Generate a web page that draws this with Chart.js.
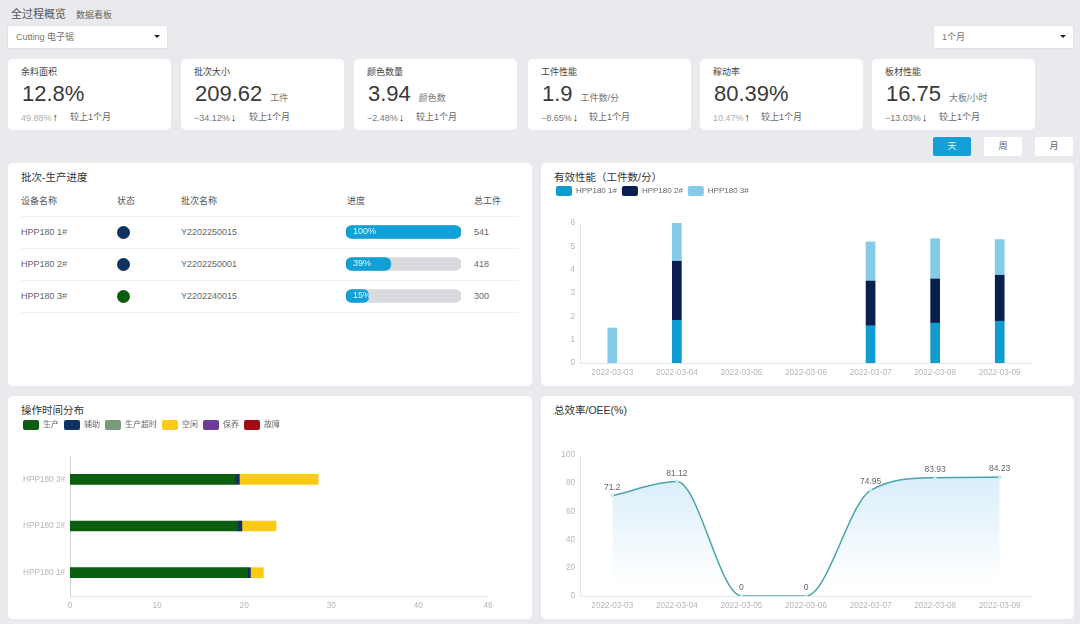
<!DOCTYPE html>
<html>
<head>
<meta charset="utf-8">
<script src="https://cdn.jsdelivr.net/npm/chart.js@4"></script>
<style>
html, body { margin: 0; padding: 0; }
body { width: 1080px; height: 624px; background: #e9eaee; position: relative; overflow: hidden;
  font-family: "Liberation Sans", "Noto Sans CJK SC", sans-serif; color: #555; }
.abs { position: absolute; white-space: nowrap; }
.card { position: absolute; background: #fff; border-radius: 5px; }
.select { position: absolute; background: #fff; height: 22px; line-height: 22px; font-size: 9px; color: #777;
  box-sizing: border-box; padding-left: 8px; box-shadow: 0 0 1px #bbb; }
.select i { position: absolute; right: 7px; top: 9px; width: 0; height: 0; border: 3px solid transparent; border-top: 3px solid #222; border-bottom: 0; }
.btn { position: absolute; top: 137px; width: 38px; height: 19px; line-height: 19px; text-align: center; font-size: 9px; background: #fff; color: #666; border-radius: 2px; }
.title { position: absolute; font-size: 10.5px; color: #333; white-space: nowrap; }
.line { position: absolute; left: 21px; width: 498px; height: 1px; background: #eef0f2; }
.dot { position: absolute; left: 117px; width: 13px; height: 13px; border-radius: 50%; }
canvas { position: absolute; }
</style>
</head>
<body>
<div class="abs" style="left:11px;top:5px;font-size:11px;color:#555">全过程概览</div>
<div class="abs" style="left:76px;top:8px;font-size:9px;color:#666">数据看板</div>
<div class="select" style="left:8px;top:26px;width:159px">Cutting 电子锯<i></i></div>
<div class="select" style="left:934px;top:26px;width:139px">1个月<i></i></div>
<div id="kpis"></div>
<div class="btn" style="left:933px;background:#149fd6;color:#dff">天</div>
<div class="btn" style="left:984px">周</div>
<div class="btn" style="left:1035px">月</div>

<div class="card" style="left:8px;top:163px;width:524px;height:223px"></div>
<div class="card" style="left:541px;top:163px;width:533px;height:223px"></div>
<div class="card" style="left:8px;top:396px;width:524px;height:223px"></div>
<div class="card" style="left:541px;top:396px;width:533px;height:223px"></div>

<div class="title" style="left:21px;top:169px">批次-生产进度</div>
<div class="title" style="left:554px;top:169px">有效性能（工件数/分）</div>
<div class="title" style="left:21px;top:402px">操作时间分布</div>
<div class="title" style="left:554px;top:402px">总效率/OEE(%)</div>

<div id="table"></div>
<canvas id="progressChart" width="115" height="96" style="left:346px;top:216px"></canvas>
<canvas id="perfChart" width="533" height="205" style="left:541px;top:181px"></canvas>
<canvas id="timeChart" width="524" height="204" style="left:8px;top:415px"></canvas>
<canvas id="oeeChart" width="533" height="199" style="left:541px;top:420px"></canvas>

<script>
// kpi cards
var kpi_names = ["余料面积", "批次大小", "颜色数量", "工件性能", "稼动率", "板材性能"];
var kpi_values = ["12.8%", "209.62", "3.94", "1.9", "80.39%", "16.75"];
var kpi_units = ["", "工件", "颜色数", "工件数/分", "", "大板/小时"];
var kpi_deltas = ["49.88%", "−34.12%", "−2.48%", "−8.65%", "10.47%", "−13.03%"];
var kpi_arrows = ["↑", "↓", "↓", "↓", "↑", "↓"];
var kpi_left = [8, 181, 354, 528, 700, 872];
var kpi_note_left = [62, 68, 62, 61, 61, 67];

// progress table
var machines = ["HPP180 1#", "HPP180 2#", "HPP180 3#"];
var status_colors = ["#0f3263", "#0f3263", "#0b5e0f"];
var batch_names = ["Y2202250015", "Y2202250001", "Y2202240015"];
var progress_bars = [100, 39, 20];
var progress_labels = ["100%", "39%", "15%"];
var total_parts = [541, 418, 300];

// effective performance
var dates = ["2022-03-03", "2022-03-04", "2022-03-05", "2022-03-06", "2022-03-07", "2022-03-08", "2022-03-09"];
var perf_1 = [null, 1.83, null, null, 1.6, 1.71, 1.79];
var perf_2 = [null, 2.53, null, null, 1.91, 1.89, 1.97];
var perf_3 = [1.5, 1.64, null, null, 1.68, 1.73, 1.53];

// operating time
var time_machines = ["HPP180 3#", "HPP180 2#", "HPP180 1#"];
var time_production = [18.95, 19.26, 20.4];
var time_assist = [0.5, 0.48, 0.32];
var time_overtime = [null, null, null];
var time_idle = [9.05, 3.92, 1.48];
var time_maintain = [null, null, null];
var time_fault = [null, null, null];

// oee
var oee_values = [71.2, 81.12, 0, 0, 74.95, 83.93, 84.23];

var tick_color = "#b4b6b8";
var axis_color = "#e3e6ea";
var font_family = '"Liberation Sans", "Noto Sans CJK SC", sans-serif';
Chart.defaults.font.family = font_family;
Chart.defaults.animation = false;
Chart.defaults.responsive = false;

var kpi_html = "";
for (let i = 0; i < kpi_names.length; i++) {
    let x = kpi_left[i];
    kpi_html += '<div class="card" style="left:' + x + 'px;top:59px;width:163px;height:71px"></div>';
    kpi_html += '<div class="abs" style="left:' + (x + 13) + 'px;top:65px;font-size:9px;color:#444">' + kpi_names[i] + '</div>';
    kpi_html += '<div class="abs" style="left:' + (x + 14) + 'px;top:81px;font-size:22px;color:#3a3a3a">' + kpi_values[i]
        + '<span style="font-size:9px;color:#777;margin-left:8px">' + kpi_units[i] + '</span></div>';
    let delta_color = kpi_arrows[i] == "↑" ? "#aab0b0" : "#777";
    kpi_html += '<div class="abs" style="left:' + (x + 13) + 'px;top:111px;font-size:9px;color:' + delta_color + '">' + kpi_deltas[i]
        + '<span style="color:#333;font-size:11px;margin-left:1px">' + kpi_arrows[i] + '</span></div>';
    kpi_html += '<div class="abs" style="left:' + (x + kpi_note_left[i]) + 'px;top:110px;font-size:9px;color:#666">较上1个月</div>';
}
document.getElementById("kpis").innerHTML = kpi_html;

var col_x = [21, 117, 181, 347, 474];
var headers = ["设备名称", "状态", "批次名称", "进度", "总工件"];
var table_html = "";
for (let i = 0; i < headers.length; i++) {
    table_html += '<div class="abs" style="left:' + col_x[i] + 'px;top:194px;font-size:9px;color:#555">' + headers[i] + '</div>';
}
table_html += '<div class="line" style="top:216px"></div>';
for (let i = 0; i < machines.length; i++) {
    let y = 232 + i * 32;
    table_html += '<div class="abs" style="left:21px;top:' + (y - 5) + 'px;font-size:9px;color:#666">' + machines[i] + '</div>';
    table_html += '<div class="dot" style="top:' + (y - 6) + 'px;background:' + status_colors[i] + '"></div>';
    table_html += '<div class="abs" style="left:181px;top:' + (y - 5) + 'px;font-size:9px;color:#666">' + batch_names[i] + '</div>';
    table_html += '<div class="abs" style="left:474px;top:' + (y - 5) + 'px;font-size:9px;color:#666">' + total_parts[i] + '</div>';
    table_html += '<div class="line" style="top:' + (y + 16) + 'px"></div>';
}
document.getElementById("table").innerHTML = table_html;

// legend height is fixed so the plot top lands where it should
function fixedLegend(height) {
    return {
        id: "fixedLegend",
        beforeLayout(chart) {
            if (chart.legend && !chart.legend._patched) {
                let fit = chart.legend.fit;
                chart.legend.fit = function () {
                    fit.call(this);
                    this.height = height;
                };
                chart.legend._patched = true;
            }
        }
    };
}

function tickStyle() {
    return { color: tick_color, font: { size: 8.2 }, padding: 5, autoSkip: false, maxRotation: 0 };
}

function gridStyle() {
    return { display: false, drawTicks: false };
}

function legendStyle() {
    return {
        position: "top",
        align: "start",
        labels: { boxWidth: 16, boxHeight: 10, padding: 5, color: "#666", font: { size: 8 }, useBorderRadius: true, borderRadius: 2 }
    };
}

new Chart(document.getElementById("progressChart"), {
    type: "bar",
    data: {
        labels: machines,
        datasets: [
            { data: progress_bars, backgroundColor: "#0fa0d8", order: 1 },
            { data: [100, 100, 100], backgroundColor: "#d9dadd", order: 2 }
        ]
    },
    options: {
        indexAxis: "y",
        layout: { padding: 0 },
        datasets: { bar: { grouped: false, barThickness: 13, borderRadius: 6, borderSkipped: false } },
        plugins: { legend: { display: false }, tooltip: { enabled: false } },
        scales: {
            x: { display: false, min: 0, max: 100 },
            y: { display: false }
        }
    },
    plugins: [{
        id: "progressLabels",
        afterDatasetsDraw(chart) {
            let ctx = chart.ctx;
            let bars = chart.getDatasetMeta(0).data;
            ctx.save();
            ctx.fillStyle = "#e8f8ff";
            ctx.font = "9px " + font_family;
            ctx.textBaseline = "middle";
            bars.forEach(function (bar, i) {
                ctx.fillText(progress_labels[i], 7, bar.y);
            });
            ctx.restore();
        }
    }]
});

new Chart(document.getElementById("perfChart"), {
    type: "bar",
    data: {
        labels: dates,
        datasets: [
            { label: "HPP180 1#", data: perf_1, backgroundColor: "#0f9bd0" },
            { label: "HPP180 2#", data: perf_2, backgroundColor: "#0a1f4d" },
            { label: "HPP180 3#", data: perf_3, backgroundColor: "#85cbe8" }
        ]
    },
    options: {
        layout: { padding: { left: 10, right: 42, top: 0, bottom: 0 } },
        datasets: { bar: { barThickness: 9 } },
        plugins: { legend: legendStyle(), tooltip: { enabled: false } },
        scales: {
            x: {
                stacked: true,
                grid: gridStyle(),
                border: { color: axis_color },
                ticks: tickStyle(),
                afterFit(scale) { scale.height = 23; }
            },
            y: {
                stacked: true,
                min: 0,
                max: 6,
                grid: gridStyle(),
                border: { color: axis_color },
                ticks: Object.assign(tickStyle(), { stepSize: 1 }),
                afterFit(scale) { scale.width = 29; }
            }
        }
    },
    plugins: [fixedLegend(42)]
});

new Chart(document.getElementById("timeChart"), {
    type: "bar",
    data: {
        labels: time_machines,
        datasets: [
            { label: "生产", data: time_production, backgroundColor: "#0b5e0f" },
            { label: "辅助", data: time_assist, backgroundColor: "#0f3263" },
            { label: "生产超时", data: time_overtime, backgroundColor: "#7a9a7a" },
            { label: "空闲", data: time_idle, backgroundColor: "#fbcb14" },
            { label: "保养", data: time_maintain, backgroundColor: "#6a3d9a" },
            { label: "故障", data: time_fault, backgroundColor: "#a00d14" }
        ]
    },
    options: {
        indexAxis: "y",
        layout: { padding: { left: 10, right: 44, top: 0, bottom: 0 } },
        datasets: { bar: { barThickness: 10 } },
        plugins: { legend: legendStyle(), tooltip: { enabled: false } },
        scales: {
            x: {
                stacked: true,
                min: 0,
                max: 48,
                grid: gridStyle(),
                border: { color: axis_color },
                ticks: Object.assign(tickStyle(), { stepSize: 10 }),
                afterFit(scale) { scale.height = 23; }
            },
            y: {
                stacked: true,
                grid: gridStyle(),
                border: { color: "#d5d8dc" },
                ticks: tickStyle(),
                afterFit(scale) { scale.width = 52; }
            }
        }
    },
    plugins: [fixedLegend(41)]
});

new Chart(document.getElementById("oeeChart"), {
    type: "line",
    data: {
        labels: dates,
        datasets: [{
            data: oee_values,
            borderColor: "#4ba3ad",
            borderWidth: 1.5,
            cubicInterpolationMode: "monotone",
            pointRadius: 1.5,
            pointBackgroundColor: "#d6eef2",
            pointBorderColor: "#a9d8de",
            pointBorderWidth: 0.5,
            fill: "origin",
            backgroundColor: function (context) {
                let area = context.chart.chartArea;
                if (!area) return "rgba(160,215,240,0.3)";
                let gradient = context.chart.ctx.createLinearGradient(0, area.top + 18, 0, area.bottom - 12);
                gradient.addColorStop(0, "rgba(140,205,238,0.34)");
                gradient.addColorStop(1, "rgba(140,205,238,0)");
                return gradient;
            }
        }]
    },
    options: {
        layout: { padding: { left: 10, right: 42, top: 35, bottom: 0 } },
        plugins: { legend: { display: false }, tooltip: { enabled: false } },
        scales: {
            x: {
                offset: true,
                grid: gridStyle(),
                border: { color: axis_color },
                ticks: tickStyle(),
                afterFit(scale) { scale.height = 23; }
            },
            y: {
                min: 0,
                max: 100,
                grid: gridStyle(),
                border: { color: axis_color },
                ticks: Object.assign(tickStyle(), { stepSize: 20 }),
                afterFit(scale) { scale.width = 29; }
            }
        }
    },
    plugins: [{
        id: "pointLabels",
        afterDatasetsDraw(chart) {
            let ctx = chart.ctx;
            ctx.save();
            ctx.fillStyle = "#666";
            ctx.font = "8.5px " + font_family;
            ctx.textAlign = "center";
            chart.getDatasetMeta(0).data.forEach(function (point, i) {
                ctx.fillText(String(oee_values[i]), point.x, point.y - 6);
            });
            ctx.restore();
        }
    }]
});
</script>
</body>
</html>
